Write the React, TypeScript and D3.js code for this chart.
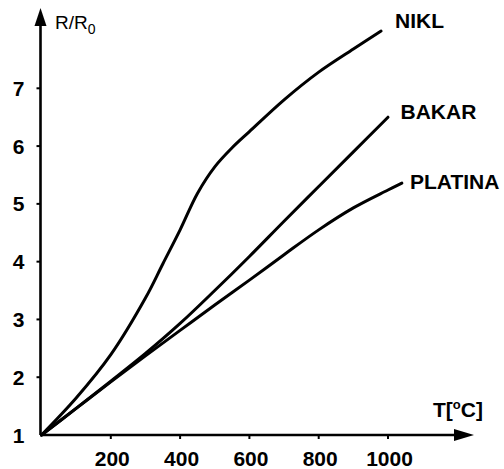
import React from "react";
import * as d3 from "d3";

const W = 504;
const H = 469;

const xTicks = [200, 400, 600, 800, 1000];
const yTicks = [1, 2, 3, 4, 5, 6, 7];

const niklT = [0, 100, 200, 300, 350, 400, 450, 500, 550, 600, 700, 800, 900, 980];
const niklR = [1, 1.64, 2.39, 3.37, 3.96, 4.55, 5.18, 5.64, 5.97, 6.25, 6.8, 7.28, 7.68, 7.99];

const bakarT = [0, 100, 200, 300, 400, 500, 600, 700, 800, 900, 1000];
const bakarR = [1, 1.46, 1.93, 2.41, 2.93, 3.5, 4.09, 4.7, 5.3, 5.9, 6.5];

const platinaT = [0, 100, 200, 300, 400, 500, 600, 700, 800, 900, 1000, 1040];
const platinaR = [1, 1.46, 1.92, 2.37, 2.81, 3.25, 3.68, 4.12, 4.55, 4.93, 5.24, 5.36];

const seriesNames = ["NIKL", "BAKAR", "PLATINA"];

export default function App() {
  const x = d3.scaleLinear().domain([0, 1000]).range([41.5, 388]);
  const y = d3.scaleLinear().domain([1, 7]).range([435, 88.3]);
  const line = d3
    .line<[number, number]>()
    .x((d) => x(d[0]))
    .y((d) => y(d[1]))
    .curve(d3.curveCatmullRom.alpha(0.5));

  const series = [
    { name: seriesNames[0], pts: niklT.map((t, i) => [t, niklR[i]] as [number, number]) },
    { name: seriesNames[1], pts: bakarT.map((t, i) => [t, bakarR[i]] as [number, number]) },
    { name: seriesNames[2], pts: platinaT.map((t, i) => [t, platinaR[i]] as [number, number]) },
  ];

  const labelPos = [
    { x: 395, y: 27.5 },
    { x: 400.5, y: 118.5 },
    { x: 410, y: 188.5 },
  ];

  const ax = x(0) - 1;
  const ay = y(1);
  const font = "'Liberation Sans', Arial, Helvetica, sans-serif";

  return (
    <svg
      width={W}
      height={H}
      style={{ position: "absolute", left: 0, top: 0, background: "#fff" }}
      fontFamily={font}
    >
      <rect x={0} y={0} width={W} height={H} fill="#fff" />
      <line x1={ax} y1={ay} x2={ax} y2={22} stroke="#000" strokeWidth={2.6} />
      <path d={`M${ax},8 L${ax - 6},26 L${ax + 6},26 Z`} fill="#000" />
      <line x1={ax} y1={ay} x2={458} y2={ay} stroke="#000" strokeWidth={2.6} />
      <path d={`M474,${ay} L454,${ay - 6} L454,${ay + 6} Z`} fill="#000" />

      {yTicks.map((t) => (
        <g key={"y" + t}>
          {t > 1 && <line x1={ax - 4} x2={ax} y1={y(t)} y2={y(t)} stroke="#000" strokeWidth={2} />}
          <text x={24.5} y={y(t) + 7.5} textAnchor="end" fontSize={21} fontWeight="bold">
            {t}
          </text>
        </g>
      ))}
      {xTicks.map((t) => (
        <g key={"x" + t}>
          <line x1={x(t)} x2={x(t)} y1={ay} y2={ay + 4} stroke="#000" strokeWidth={2} />
          <text x={x(t) + 1.5} y={466} textAnchor="middle" fontSize={21} fontWeight="bold">
            {t}
          </text>
        </g>
      ))}

      {series.map((s) => (
        <path
          key={s.name}
          d={line(s.pts) || ""}
          fill="none"
          stroke="#000"
          strokeWidth={3}
          strokeLinecap="round"
        />
      ))}

      {series.map((s, i) => (
        <text key={"l" + s.name} x={labelPos[i].x} y={labelPos[i].y} fontSize={21} fontWeight="bold">
          {s.name}
        </text>
      ))}

      <text x={55} y={28.5} fontSize={19}>
        R/R
        <tspan fontSize={14} dy={5}>
          0
        </tspan>
      </text>

      <text x={433} y={417} fontSize={21} fontWeight="bold">
        T[
        <tspan fontSize={13} dy={-8}>
          o
        </tspan>
        <tspan dy={8}>C]</tspan>
      </text>
    </svg>
  );
}
